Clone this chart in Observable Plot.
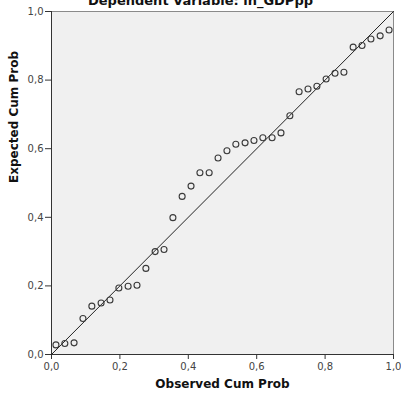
<!DOCTYPE html>
<html>
<head>
<meta charset="utf-8">
<script src="https://cdn.jsdelivr.net/npm/d3@7"></script>
<script src="https://cdn.jsdelivr.net/npm/@observablehq/plot@0.6"></script>
<style>
  html, body { margin: 0; padding: 0; background: #ffffff; }
  #chart { width: 401px; height: 396px; overflow: hidden; }
</style>
</head>
<body>
<div id="chart"></div>
<script>
const title = "Dependent Variable: ln_GDPpp";
const xLabel = "Observed Cum Prob";
const yLabel = "Expected Cum Prob";
const tickValues = [0, 0.2, 0.4, 0.6, 0.8, 1.0];

const observed = [0.013, 0.039, 0.066, 0.092, 0.118, 0.145, 0.171, 0.197, 0.224, 0.250,
  0.276, 0.303, 0.329, 0.355, 0.382, 0.408, 0.434, 0.461, 0.487, 0.513,
  0.539, 0.566, 0.592, 0.618, 0.645, 0.671, 0.697, 0.724, 0.750, 0.776,
  0.803, 0.829, 0.855, 0.882, 0.908, 0.934, 0.961, 0.987];
const expected = [0.028, 0.032, 0.034, 0.105, 0.141, 0.150, 0.159, 0.194, 0.199, 0.202,
  0.251, 0.300, 0.306, 0.399, 0.461, 0.491, 0.530, 0.530, 0.573, 0.594,
  0.613, 0.617, 0.624, 0.632, 0.632, 0.646, 0.696, 0.766, 0.774, 0.782,
  0.803, 0.820, 0.823, 0.896, 0.901, 0.920, 0.929, 0.946];
const refLine = [0, 1];

const points = observed.map((x, i) => ({x, y: expected[i]}));
const fmt = d => d3.format(".1f")(d).replace(".", ",");
const font = "DejaVu Sans, Verdana, sans-serif";

const chart = Plot.plot({
  width: 401,
  height: 396,
  marginLeft: 51,
  marginRight: 8,
  marginTop: 11,
  marginBottom: 42,
  style: {fontFamily: font, fontSize: "10px", color: "#333", background: "#fff", overflow: "hidden"},
  x: {domain: [0, 1], ticks: tickValues, tickFormat: fmt, tickSize: 5, tickPadding: 3, label: null},
  y: {domain: [0, 1], ticks: tickValues, tickFormat: fmt, tickSize: 6, tickPadding: 2, label: null},
  marks: [
    Plot.frame({fill: "#f0f0f0", stroke: "#8a8a8a"}),
    Plot.ruleX([0], {stroke: "#333"}),
    Plot.ruleY([0], {stroke: "#333"}),
    Plot.axisX({ticks: tickValues, tickFormat: fmt, tickSize: 5, tickPadding: 3, stroke: "#333", fill: "#444", label: null}),
    Plot.axisY({ticks: tickValues, tickFormat: fmt, tickSize: 6, tickPadding: 2, stroke: "#333", fill: "#444", label: null}),
    Plot.line(refLine.map(v => ({x: v, y: v})), {x: "x", y: "y", stroke: "#222", strokeWidth: 1}),
    Plot.dot(points, {x: "x", y: "y", r: 3, stroke: "#3a3a3a", strokeWidth: 1.1, fill: "none"}),
    Plot.text([title], {frameAnchor: "top", dx: -22, dy: -16, text: d => d, fontSize: 13, fontWeight: "bold", fill: "#111", lineAnchor: "top"}),
    Plot.text([xLabel], {frameAnchor: "bottom", dy: 25, text: d => d, fontSize: 12, fontWeight: "bold", fill: "#111", lineAnchor: "top"}),
    Plot.text([yLabel], {frameAnchor: "left", dx: -37, rotate: -90, text: d => d, fontSize: 12, fontWeight: "bold", fill: "#111"})
  ]
});
document.getElementById("chart").appendChild(chart);
</script>
</body>
</html>
